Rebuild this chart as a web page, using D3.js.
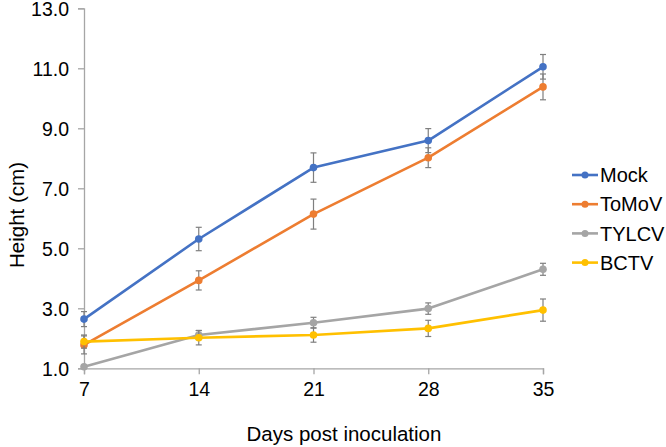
<!DOCTYPE html>
<html>
<head>
<meta charset="utf-8">
<script src="https://cdn.jsdelivr.net/npm/d3@7"></script>
<style>
html,body{margin:0;padding:0;background:#fff;}
svg{display:block;font-family:"Liberation Sans",Arial,sans-serif;}
</style>
</head>
<body>
<svg id="chart" width="666" height="447"></svg>
<script>
const days = [7, 14, 21, 28, 35];
const seriesNames = ["Mock", "ToMoV", "TYLCV", "BCTV"];
const mock = [2.64, 5.31, 7.69, 8.59, 11.05];
const mockErr = [0.25, 0.39, 0.49, 0.40, 0.41];
const tomov = [1.78, 3.93, 6.14, 8.02, 10.38];
const tomovErr = [0.30, 0.32, 0.50, 0.33, 0.43];
const tylcv = [1.05, 2.11, 2.52, 2.99, 4.30];
const tylcvErr = [0.05, 0.15, 0.18, 0.19, 0.20];
const bctv = [1.89, 2.02, 2.11, 2.33, 2.94];
const bctvErr = [0.22, 0.24, 0.24, 0.27, 0.37];
const yTicks = [1, 3, 5, 7, 9, 11, 13];
const colors = ["#4472C4", "#ED7D31", "#A5A5A5", "#FFC000"];

const values = [mock, tomov, tylcv, bctv];
const errs = [mockErr, tomovErr, tylcvErr, bctvErr];

const svg = d3.select("#chart");
const x = d3.scaleLinear().domain([7, 35]).range([84, 543]);
const y = d3.scaleLinear().domain([1, 13]).range([368.3, 8.3]);
const axisColor = "#A6A6A6";

// Y axis
const yAxis = svg.append("g").attr("transform", "translate(84,0)")
  .call(d3.axisLeft(y).tickValues(yTicks).tickFormat(d3.format(".1f")).tickSizeOuter(0).tickSize(6).tickPadding(9));
yAxis.select(".domain").attr("stroke", axisColor).attr("stroke-width", 1.3);
yAxis.selectAll(".tick line").attr("stroke", axisColor).attr("stroke-width", 1.3);
yAxis.selectAll(".tick text").attr("fill", "#000").style("font-size", "19.5px").attr("dy", "0.36em");

// X axis
const xAxis = svg.append("g").attr("transform", "translate(0,368.3)")
  .call(d3.axisBottom(x).tickValues(days).tickFormat(d3.format("d")).tickSizeOuter(0).tickSize(6).tickPadding(8));
xAxis.select(".domain").attr("stroke", axisColor).attr("stroke-width", 1.3);
xAxis.selectAll(".tick line").attr("stroke", axisColor).attr("stroke-width", 1.3);
xAxis.selectAll(".tick text").attr("fill", "#000").style("font-size", "19.5px");

// Axis titles
svg.append("text").attr("x", 344).attr("y", 441).attr("text-anchor", "middle")
  .style("font-size", "20.5px").attr("fill", "#000").text("Days post inoculation");
svg.append("text").attr("transform", "translate(24,215) rotate(-90)").attr("text-anchor", "middle")
  .style("font-size", "20.5px").attr("fill", "#000").text("Height (cm)");

const line = d3.line().x((d, i) => x(days[i])).y(d => y(d));

values.forEach((vals, s) => {
  const g = svg.append("g");
  // error bars
  vals.forEach((v, i) => {
    const e = errs[s][i];
    const cx = x(days[i]);
    const eg = g.append("g").attr("stroke", "#7F7F7F").attr("stroke-width", 1.2);
    eg.append("line").attr("x1", cx).attr("x2", cx).attr("y1", y(v - e)).attr("y2", y(v + e));
    eg.append("line").attr("x1", cx - 3).attr("x2", cx + 3).attr("y1", y(v - e)).attr("y2", y(v - e));
    eg.append("line").attr("x1", cx - 3).attr("x2", cx + 3).attr("y1", y(v + e)).attr("y2", y(v + e));
  });
  g.append("path").datum(vals).attr("d", line).attr("fill", "none")
    .attr("stroke", colors[s]).attr("stroke-width", 2.6).attr("stroke-linejoin", "round");
  g.selectAll("circle").data(vals).enter().append("circle")
    .attr("cx", (d, i) => x(days[i])).attr("cy", d => y(d)).attr("r", 3.8).attr("fill", colors[s]);
});

// Legend
const legend = svg.append("g");
seriesNames.forEach((name, s) => {
  const ly = 175 + s * 29.2;
  legend.append("line").attr("x1", 572).attr("x2", 598).attr("y1", ly).attr("y2", ly)
    .attr("stroke", colors[s]).attr("stroke-width", 2.6);
  legend.append("circle").attr("cx", 585).attr("cy", ly).attr("r", 3.5).attr("fill", colors[s]);
  legend.append("text").attr("x", 600).attr("y", ly).attr("dy", "0.36em")
    .style("font-size", "20px").attr("fill", "#000").text(name);
});
</script>
</body>
</html>
